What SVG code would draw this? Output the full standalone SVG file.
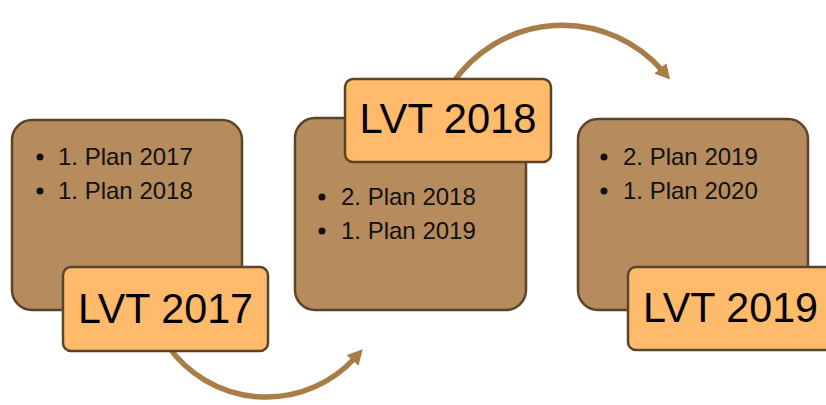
<svg xmlns="http://www.w3.org/2000/svg" width="826" height="405" viewBox="0 0 826 405">
<style>
.box{fill:#B68B5D;stroke:#5A4528;stroke-width:2.5}
.lbl{fill:#FFBA6B;stroke:#5A4528;stroke-width:2.5}
.big{font-family:"Liberation Sans",Arial,sans-serif;font-size:43px;fill:#000;text-anchor:middle}
.sm{font-family:"Liberation Sans",Arial,sans-serif;font-size:24px;fill:#111}
.dot{fill:#111}
.arc{fill:none;stroke:#A97D48;stroke-width:5.5}
</style>
<defs>
<marker id="ah" markerUnits="userSpaceOnUse" markerWidth="20" markerHeight="20" refX="4" refY="8" orient="auto">
<path d="M0,0 L15,8 L0,16 z" fill="#A97D48"/>
</marker>
</defs>
<g id="connectors">
<path class="arc" d="M168,346 A120 120 0 0 0 355.3,357.5" marker-end="url(#ah)"/>
<path class="arc" d="M452,84 A133 133 0 0 1 662.9,71.3" marker-end="url(#ah)"/>
</g>
<g id="node-2017">
<rect class="box" x="12" y="120" width="230" height="190" rx="20"/>
<circle class="dot" cx="40" cy="157" r="3.5"/>
<text class="sm" x="58" y="165">1. Plan 2017</text>
<circle class="dot" cx="40" cy="191" r="3.5"/>
<text class="sm" x="58" y="199">1. Plan 2018</text>
<rect class="lbl" x="63" y="267" width="205" height="84" rx="8"/>
<text class="big" x="165.5" y="323" textLength="175" lengthAdjust="spacingAndGlyphs">LVT 2017</text>
</g>
<g id="node-2018">
<rect class="box" x="295" y="118" width="231" height="192" rx="20"/>
<circle class="dot" cx="322" cy="197" r="3.5"/>
<text class="sm" x="341" y="205">2. Plan 2018</text>
<circle class="dot" cx="322" cy="231" r="3.5"/>
<text class="sm" x="341" y="239">1. Plan 2019</text>
<rect class="lbl" x="345" y="79" width="206" height="83" rx="8"/>
<text class="big" x="448" y="133" textLength="177" lengthAdjust="spacingAndGlyphs">LVT 2018</text>
</g>
<g id="node-2019">
<rect class="box" x="578" y="119" width="230" height="191" rx="20"/>
<circle class="dot" cx="604" cy="157" r="3.5"/>
<text class="sm" x="623" y="165">2. Plan 2019</text>
<circle class="dot" cx="604" cy="191" r="3.5"/>
<text class="sm" x="623" y="199">1. Plan 2020</text>
<rect class="lbl" x="628" y="267" width="206" height="83" rx="8"/>
<text class="big" x="730.5" y="322" textLength="175" lengthAdjust="spacingAndGlyphs">LVT 2019</text>
</g>
</svg>
